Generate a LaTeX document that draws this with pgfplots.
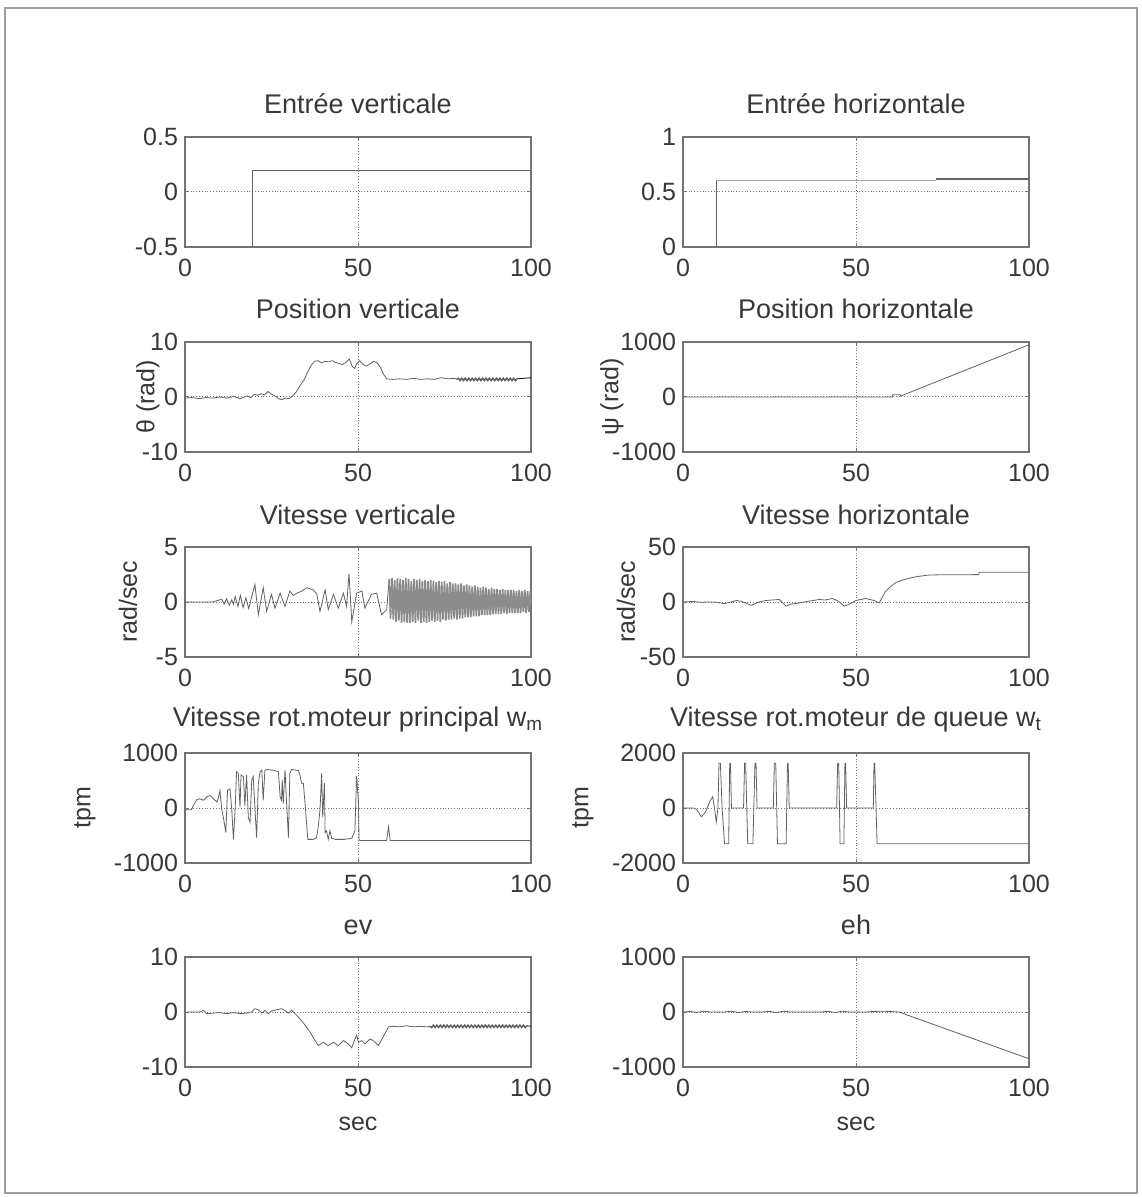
\documentclass[border=0pt]{standalone}
\usepackage{fontspec}
\setmainfont{Liberation Sans}
\usepackage{pgfplots}
\pgfplotsset{compat=1.18}
\definecolor{txt}{gray}{0.22}
\definecolor{fr}{gray}{0.45}
\definecolor{ln}{gray}{0.38}
\definecolor{lnl}{gray}{0.65}
\definecolor{band}{gray}{0.55}
\pgfplotsset{
 mat/.style={
  scale only axis, width=173pt, height=55pt, anchor=north west,
  xmin=0, xmax=100, xtick={0,50,100},
  grid=major, major grid style={densely dotted, fr, line width=0.5pt},
  axis line style={fr, line width=0.6pt},
  tick style={fr, line width=0.5pt}, major tick length=2pt, tick align=inside,
  ticklabel style={font=\fontsize{12.5}{14}\selectfont, text=txt},
  xticklabel style={yshift=-2.5pt},
  /pgf/number format/assume math mode=true,
  /pgf/number format/1000 sep={},
  scaled ticks=false,
  title style={font=\fontsize{13.5}{15}\selectfont, text=txt, at={(0.5,1)}, anchor=base, yshift=5.5pt},
  label style={font=\fontsize{12.5}{14}\selectfont, text=txt},
  xlabel style={yshift=-3.5pt},
  cycle list={{ln, line width=0.5pt, mark=none}},
 },
 yl/.style={ylabel style={at={(rel axis cs:0,0.5)}, anchor=center, yshift=#1}},
}
\begin{document}
\begin{tikzpicture}
\path[use as bounding box] (0,0) rectangle (570.5pt,-598.5pt);
\draw[gray!75, line width=1pt] (2.5pt,-4pt) rectangle (568.5pt,-596.5pt);

% Row 1
\begin{axis}[mat, at={(92.5pt,-68.5pt)}, ymin=-0.5, ymax=0.5, ytick={-0.5,0,0.5},
  yticklabels={-0.5,0,0.5}, title={Entrée verticale}]
\addplot coordinates {(0,-0.5) (19.6,-0.5) (19.6,0.2) (100,0.2)};
\end{axis}
\begin{axis}[mat, at={(341.5pt,-68.5pt)}, ymin=0, ymax=1, ytick={0,0.5,1},
  yticklabels={0,0.5,1}, title={Entrée horizontale}]
\addplot coordinates {(0,0) (9.6,0) (9.6,0.6)};
\addplot[lnl, line width=0.5pt] coordinates {(9.6,0.6) (73,0.6)};
\addplot[ln, line width=0.9pt] coordinates {(73,0.615) (100,0.615)};
\end{axis}

% Row 2
\begin{axis}[mat, at={(341.5pt,-171pt)}, ymin=-1000, ymax=1000, ytick={-1000,0,1000},
  title={Position horizontale}, ylabel={ψ (rad)}, yl=35.5pt]
\addplot coordinates {(0,0) (60.5,0) (60.6,40) (62.8,40) (63,20) (100,950)};
\end{axis}
\begin{axis}[mat, at={(92.5pt,-171pt)}, ymin=-10, ymax=10, ytick={-10,0,10},
  title={Position verticale}, ylabel={θ (rad)}, yl=18.5pt]
\addplot coordinates {(0,-0.2) (2,-0.1) (4,-0.3) (6,-0.1) (8,-0.2) (10,0) (12,-0.2) (14,0.1) (16,-0.3) (18,0.2) (19,-0.1) (20,0.5) (21,0.3) (22,0.6) (23,0.4) (24,1.0) (25,0.5) (26,0.2) (27,-0.3) (28,-0.5) (29,-0.2) (30,-0.3) (31,0.1) (32,0.8) (33.2,2.0) (34.5,3.2) (35.5,4.6) (36.5,5.8) (37.5,6.5) (38.5,6.6) (39.5,6.2) (40.5,6.5) (41.5,6.4) (42.5,6.6) (43.5,6.3) (44.5,6.1) (45.5,5.9) (46.5,6.3) (47.5,6.9) (48.3,5.6) (49,5.2) (49.7,6.1) (50.5,6.6) (51.3,6.0) (52.3,5.6) (53.2,5.9) (54.6,6.5) (55.5,6.2) (56.5,5.4) (57.3,4.2) (58.3,3.3) (60,3.2) (62,3.3) (64,3.2) (66,3.4) (68,3.2) (70,3.3) (72,3.2) (74,3.5) (76,3.3) (78,3.4) (78.5,3.2)};
\addplot+[line width=0.8pt, ln] coordinates {(78.5,3.2) (79,3.4) (79.5,3.0) (80,3.4) (80.5,3.0) (81,3.4) (81.5,3.0) (82,3.4) (82.5,3.0) (83,3.4) (83.5,3.0) (84,3.4) (84.5,3.0) (85,3.4) (85.5,3.0) (86,3.4) (86.5,3.0) (87,3.4) (87.5,3.0) (88,3.4) (88.5,3.0) (89,3.4) (89.5,3.0) (90,3.4) (90.5,3.0) (91,3.4) (91.5,3.0) (92,3.4) (92.5,3.0) (93,3.4) (93.5,3.0) (94,3.4) (94.5,3.0) (95,3.4) (95.5,3.0) (96,3.3)};
\addplot coordinates {(96,3.3) (98,3.4) (100,3.5)};
\end{axis}

% Row 3
\begin{axis}[mat, at={(92.5pt,-273.5pt)}, ymin=-5, ymax=5, ytick={-5,0,5},
  title={Vitesse verticale}, ylabel={rad/sec}, yl=28.5pt]
\addplot coordinates {(0,0) (8,0) (9,0.1) (10.6,0.25) (11.3,-0.2) (12,0.3) (12.8,-0.3) (13.5,0.2) (14,-0.2) (14.5,0.5) (15.3,-0.4) (16,0.6) (16.8,-0.5) (17.6,0.4) (18.4,-0.6) (19.3,0.5) (20.2,1.6) (21.2,-1.15) (22.6,1.3) (23.6,-0.85) (25,0.7) (26,-0.55) (27.5,0.8) (28.9,-0.4) (30.3,1.0) (31.3,0.6) (32.3,0.8) (33.8,1.0) (35.2,1.3) (37.1,1.1) (38.1,0.7) (39,-0.85) (40.5,1.1) (41.4,-0.7) (42.9,0.7) (44.3,-0.55) (45.8,0.8) (46.7,-0.4) (47.4,2.6) (48.2,-1.8) (49.6,0.8) (51.1,1.0) (52,-0.55) (53.9,0.7) (55.4,0.8) (56.8,-1.15) (58.3,-0.7) (59.0,2.1)};
\addplot+[line width=0.85pt, band] coordinates {(59.0,2.1) (59.4,-1.5) (59.8,2.2) (60.2,-1.6) (60.6,2.0) (61.0,-1.8) (61.4,2.2) (61.8,-1.7) (62.2,2.1) (62.6,-1.9) (63.0,2.0) (63.4,-1.8) (63.8,2.2) (64.2,-1.9) (64.6,2.1) (65.0,-1.9) (65.4,1.9) (65.8,-1.8) (66.2,2.1) (66.6,-1.9) (67.0,2.0) (67.4,-1.7) (67.8,2.1) (68.2,-1.9) (68.6,1.9) (69.0,-1.8) (69.4,2.0) (69.8,-1.9) (70.2,1.9) (70.6,-1.8) (71.0,2.0) (71.4,-1.7) (71.8,1.9) (72.2,-1.8) (72.6,1.8) (73.0,-1.7) (73.4,1.9) (73.8,-1.8) (74.2,1.8) (74.6,-1.6) (75.0,1.9) (75.4,-1.7) (75.8,1.7) (76.2,-1.6) (76.6,1.8) (77.0,-1.6) (77.4,1.7) (77.8,-1.5) (78.2,1.7) (78.6,-1.6) (79.0,1.6) (79.4,-1.5) (79.8,1.7) (80.2,-1.5) (80.6,1.5) (81.0,-1.4) (81.4,1.6) (81.8,-1.4) (82.2,1.5) (82.6,-1.4) (83.0,1.4) (83.4,-1.3) (83.8,1.5) (84.2,-1.3) (84.6,1.4) (85.0,-1.3) (85.4,1.3) (85.8,-1.2) (86.2,1.4) (86.6,-1.2) (87.0,1.3) (87.4,-1.2) (87.8,1.2) (88.2,-1.2) (88.6,1.3) (89.0,-1.1) (89.4,1.2) (89.8,-1.1) (90.2,1.2) (90.6,-1.1) (91.0,1.1) (91.4,-1.1) (91.8,1.2) (92.2,-1.0) (92.6,1.1) (93.0,-1.1) (93.4,1.1) (93.8,-1.0) (94.2,1.1) (94.6,-1.0) (95.0,1.1) (95.4,-1.0) (95.8,1.0) (96.2,-1.0) (96.6,1.1) (97.0,-1.0) (97.4,1.0) (97.8,-0.9) (98.2,1.1) (98.6,-1.0) (99.0,1.0) (99.4,-0.9) (99.8,1.0) (100,-0.2)};
\end{axis}
\begin{axis}[mat, at={(341.5pt,-273.5pt)}, ymin=-50, ymax=50, ytick={-50,0,50},
  title={Vitesse horizontale}, ylabel={rad/sec}, yl=28.5pt]
\addplot coordinates {(0,0) (3,0.5) (5,-0.3) (7,0) (9,0) (12,-1.5) (15.5,1.4) (17,0.5) (19.7,-3) (22,0) (24,1.4) (27.8,2.3) (29.8,-3.8) (31,-2) (33.6,-0.8) (36,0.5) (39.4,2.3) (41,1.8) (43.2,3.2) (45,0.5) (46.6,-3.8) (48,-2) (50,1.4) (52.8,3.2) (55.2,1.4) (56.7,-0.8) (58.6,10) (60,14) (61.5,17.7) (64,20.5) (66.3,22.3) (68,23.3) (71.1,24.5) (75,24.8) (80,24.8) (85.5,24.9) (85.6,27) (100,27)};
\end{axis}

% Row 4
\begin{axis}[mat, at={(92.5pt,-376.5pt)}, ymin=-1000, ymax=1000, ytick={-1000,0,1000},
  title style={yshift=2pt},
  title={Vitesse rot.moteur principal w\textsubscript{m}}, ylabel={tpm}, yl=50pt]
\addplot coordinates {(0,-30) (1.9,-30) (2.4,45) (3.4,150) (4.3,170) (5.3,140) (6.3,200) (7.2,230) (8.2,170) (9.2,110) (9.6,170) (10.1,320) (10.6,-15) (11.1,-170) (11.8,-445) (12.3,320) (13,350) (13.5,-15) (14,-570) (14.5,-15) (14.9,660) (15.4,630) (15.9,15) (16.2,600) (16.9,570) (17.3,45) (17.8,600) (18.3,-170) (18.8,-260) (19.3,510) (19.7,570) (20.2,15) (20.7,-540) (21.2,450) (21.7,660) (22.2,690) (22.6,140) (23.1,690) (24.1,700) (25,690) (26,680) (27,660) (27.5,200) (27.9,140) (28.1,510) (28.4,80) (28.9,690) (29.4,45) (29.9,-540) (30.3,630) (30.8,700) (31.8,690) (32.8,680) (33.2,600) (33.7,450) (34.2,450) (34.7,80) (35.5,-570) (36.1,-570) (37.1,-570) (38,-540) (38.5,-350) (39,-45) (39.5,630) (39.8,-170) (40.3,450) (40.5,-445) (40.9,-415) (41.4,-570) (41.9,-415) (42.4,-550) (43.4,-570) (44.8,-570) (46.2,-570) (48.2,-550) (49.1,-415) (49.6,580) (50.1,140) (50.3,-570) (50.6,-590) (58.3,-590) (58.8,-340) (59.3,-590) (100,-590)};
\end{axis}
\begin{axis}[mat, at={(341.5pt,-376.5pt)}, ymin=-2000, ymax=2000, ytick={-2000,0,2000},
  title style={yshift=2pt},
  title={Vitesse rot.moteur de queue w\textsubscript{t}}, ylabel={tpm}, yl=50pt]
\addplot coordinates {(0,0) (3,0) (4,-60) (5.3,-320) (6.5,-150) (7.7,225) (8.6,410) (9.1,0) (9.6,-510) (10.1,0) (10.4,1630) (10.8,1630) (11.3,0) (12,-1300) (13.2,-1300) (13.5,1630) (13.7,1630) (14,0) (17.5,0) (17.8,1630) (18.1,1630) (18.7,-1300) (20.2,-1300) (20.8,1630) (21.1,1630) (21.4,0) (26.1,0) (26.4,1630) (26.8,1630) (27.3,-1300) (29.8,-1300) (30.2,1630) (30.4,1630) (30.7,0) (44.4,0) (44.7,1630) (45,1630) (45.4,-1300) (46.5,-1300) (46.8,1630) (47,1630) (47.3,0) (55,0) (55.2,1630) (55.4,1630) (56.1,-1300) (100,-1300)};
\end{axis}

% Row 5
\begin{axis}[mat, at={(92.5pt,-478.5pt)}, ymin=-10, ymax=10, ytick={-10,0,10},
  title={ev}, xlabel={sec}]
\addplot coordinates {(0.5,0) (4.3,0) (5.3,0.3) (6.3,-0.3) (8.2,-0.2) (10,-0.1) (12,-0.3) (14,-0.1) (16,-0.3) (17.8,-0.2) (19.3,0) (20.2,0.6) (21.2,0.4) (22.2,-0.2) (23.1,0.3) (24.1,-0.3) (25,0.2) (26.5,0.4) (27.9,0.6) (28.9,0.3) (29.9,-0.2) (30.8,0.3) (31.8,-0.3) (33.2,-1.2) (34.7,-2.4) (36.1,-3.6) (37.6,-5.2) (38.5,-6.1) (40,-5.5) (41.4,-6.1) (42.9,-5.5) (44.3,-6.1) (45.8,-5.2) (47.2,-5.8) (48.2,-6.5) (49.1,-4.9) (49.6,-4.2) (50.1,-5.5) (51.1,-5.2) (52,-5.8) (53.5,-4.9) (54.4,-5.2) (55.9,-6.1) (57.3,-4.5) (58.8,-2.7) (60.2,-2.6) (62,-2.7) (64,-2.5) (66,-2.7) (68,-2.6) (70,-2.7) (70.8,-2.6)};
\addplot+[line width=0.75pt, ln] coordinates {(70.8,-2.6) (71.3,-2.8) (71.8,-2.4) (72.3,-2.8) (72.8,-2.4) (73.3,-2.8) (73.8,-2.4) (74.3,-2.8) (74.8,-2.4) (75.3,-2.8) (75.8,-2.4) (76.3,-2.8) (76.8,-2.4) (77.3,-2.8) (77.8,-2.4) (78.3,-2.8) (78.8,-2.4) (79.3,-2.8) (79.8,-2.4) (80.3,-2.8) (80.8,-2.4) (81.3,-2.8) (81.8,-2.4) (82.3,-2.8) (82.8,-2.4) (83.3,-2.8) (83.8,-2.4) (84.3,-2.8) (84.8,-2.4) (85.3,-2.8) (85.8,-2.4) (86.3,-2.8) (86.8,-2.4) (87.3,-2.8) (87.8,-2.4) (88.3,-2.8) (88.8,-2.4) (89.3,-2.8) (89.8,-2.4) (90.3,-2.8) (90.8,-2.4) (91.3,-2.8) (91.8,-2.4) (92.3,-2.8) (92.8,-2.4) (93.3,-2.8) (93.8,-2.4) (94.3,-2.8) (94.8,-2.4) (95.3,-2.8) (95.8,-2.4) (96.3,-2.8) (96.8,-2.4) (97.3,-2.8) (97.8,-2.4) (98.3,-2.8) (98.7,-2.5)};
\addplot coordinates {(98.7,-2.5) (100,-2.6)};
\end{axis}
\begin{axis}[mat, at={(341.5pt,-478.5pt)}, ymin=-1000, ymax=1000, ytick={-1000,0,1000},
  title={eh}, xlabel={sec}]
\addplot coordinates {(0,0) (2,10) (4,-10) (6,15) (8,0) (12,0) (14,15) (16,-10) (18,10) (20,0) (23,0) (25,12) (27,-10) (29,15) (31,0) (40,0) (42,12) (44,-10) (46,15) (48,0) (53,0) (55,10) (58,15) (60,8) (62.4,0) (100,-850)};
\end{axis}
\end{tikzpicture}
\end{document}
